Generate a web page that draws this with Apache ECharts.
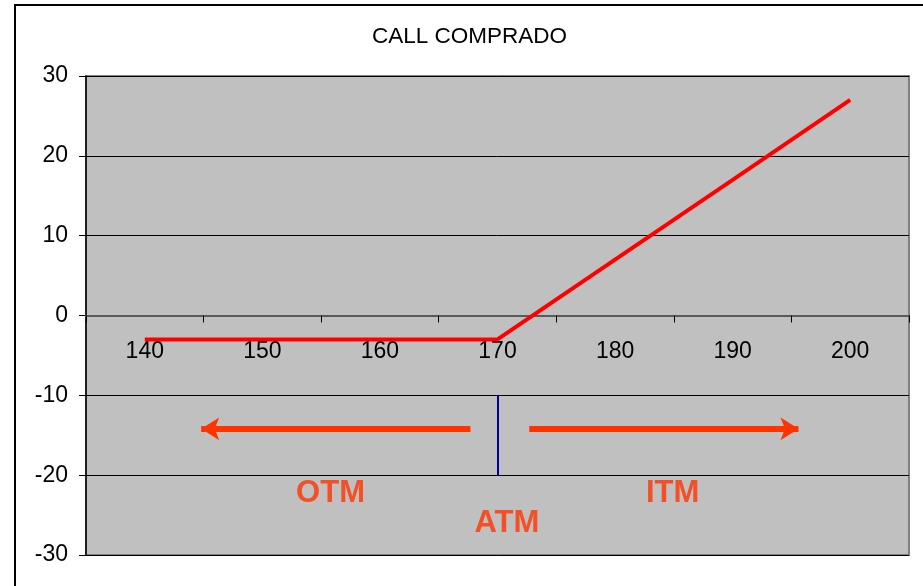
<!DOCTYPE html>
<html>
<head>
<meta charset="utf-8">
<title>CALL COMPRADO</title>
<script src="https://cdn.jsdelivr.net/npm/echarts@6/dist/echarts.min.js"></script>
<style>
  html, body { margin: 0; padding: 0; background: #fff; }
  #chart { width: 923px; height: 586px; }
</style>
</head>
<body>
<div id="chart"></div>
<script>
  // precios de ejercicio y resultado del call comprado
  var strikes = ['140', '150', '160', '170', '180', '190', '200']
  var payoff = [-3, -3, -3, -3, 7, 17, 27]
  var yTicks = { min: -30, max: 30, interval: 10 }

  // anotaciones (en unidades de precio / resultado)
  var atmLine = [[170, -10], [170, -20]]
  var otmArrow = [[167.7, -14.2], [144.8, -14.2]]
  var itmArrow = [[172.7, -14.2], [195.6, -14.2]]
  var zoneLabels = [
    { name: 'OTM', value: [155.8, -22.3] },
    { name: 'ITM', value: [184.9, -22.3] },
    { name: 'ATM', value: [170.8, -26.1] }
  ]

  var font = 'Liberation Sans, Arial, sans-serif'
  var orange = '#FF3300'
  var gridTop = 76
  var gridBottom = 31
  var plotH = 586 - gridTop - gridBottom

  var myChart = echarts.init(document.getElementById('chart'))
  myChart.setOption({
    animation: false,
    title: {
      text: 'CALL COMPRADO',
      left: 367,
      top: 20,
      textStyle: { fontFamily: font, fontSize: 22.5, fontWeight: 'normal', color: '#000' }
    },
    graphic: [{
      type: 'rect',
      shape: { x: 15, y: 5, width: 1000, height: 700 },
      style: { fill: 'none', stroke: '#000', lineWidth: 2 },
      silent: true,
      z: -1
    }],
    grid: {
      show: true,
      left: 86,
      right: 14,
      top: gridTop,
      bottom: gridBottom,
      outerBoundsMode: 'none',
      containLabel: false,
      backgroundColor: '#C0C0C0',
      borderColor: '#808080',
      borderWidth: 2
    },
    xAxis: [{
      type: 'category',
      data: strikes,
      boundaryGap: true,
      position: 'bottom',
      // el eje cruza en y = 0
      offset: -plotH * (0 - yTicks.min) / (yTicks.max - yTicks.min),
      axisLine: { onZero: false, lineStyle: { color: '#5a5a5a', width: 2 } },
      axisTick: { show: true, length: 7, lineStyle: { color: '#000' } },
      axisLabel: { color: '#000', fontFamily: font, fontSize: 23, margin: 25 },
      splitLine: { show: false },
      z: 3
    }, {
      type: 'value',
      min: 135,
      max: 205,
      show: false
    }],
    yAxis: {
      type: 'value',
      min: yTicks.min,
      max: yTicks.max,
      interval: yTicks.interval,
      axisLine: { show: true, onZero: false, lineStyle: { color: '#000', width: 1.5 } },
      axisTick: { show: true, length: 7, lineStyle: { color: '#000' } },
      axisLabel: { color: '#000', fontFamily: font, fontSize: 23, margin: 18 },
      splitLine: { show: true, lineStyle: { color: '#000', width: 1 } }
    },
    series: [{
      name: 'Call comprado',
      type: 'line',
      data: payoff,
      symbol: 'none',
      lineStyle: { color: '#FF0000', width: 4 },
      z: 5
    }, {
      name: 'anotaciones',
      type: 'scatter',
      xAxisIndex: 1,
      symbolSize: 0,
      silent: true,
      data: zoneLabels,
      label: {
        show: true,
        position: 'inside',
        formatter: '{b}',
        color: orange,
        fontFamily: font,
        fontSize: 31,
        fontWeight: 'bold'
      },
      markLine: {
        silent: true,
        animation: false,
        label: { show: false },
        data: [
          [{ coord: atmLine[0], symbol: 'none', lineStyle: { color: '#000099', width: 2, type: 'solid' } },
           { coord: atmLine[1], symbol: 'none' }],
          [{ coord: otmArrow[0], symbol: 'none', lineStyle: { color: orange, width: 6, type: 'solid' } },
           { coord: otmArrow[1], symbol: 'arrow', symbolSize: [17, 18] }],
          [{ coord: itmArrow[0], symbol: 'none', lineStyle: { color: orange, width: 6, type: 'solid' } },
           { coord: itmArrow[1], symbol: 'arrow', symbolSize: [17, 18] }]
        ]
      }
    }]
  })
</script>
</body>
</html>
